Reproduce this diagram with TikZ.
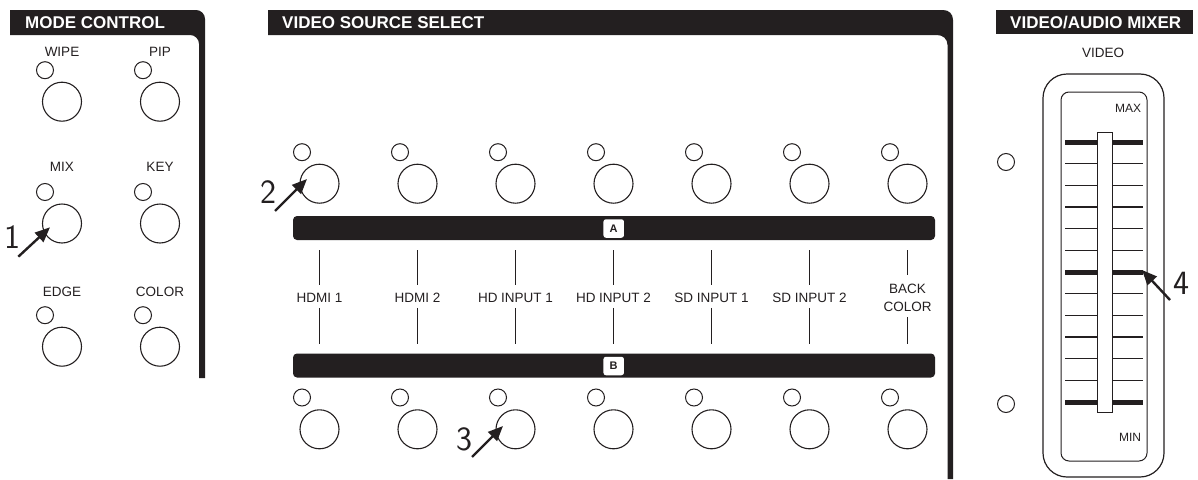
\documentclass[tikz,border=0pt]{standalone}
\usepackage{fontspec}
\setmainfont{Liberation Sans}
\usetikzlibrary{arrows.meta,calc}
\definecolor{ink}{HTML}{231F20}
\begin{document}
\begin{tikzpicture}[x=1pt,y=-1pt,
  led/.style={circle,draw=ink,line width=1pt,minimum size=17pt,inner sep=0pt},
  btn/.style={circle,draw=ink,line width=1.1pt,minimum size=39pt,inner sep=0pt},
  lbl/.style={text=ink,font=\fontsize{13.5}{18.5}\selectfont,inner sep=0pt,align=center},
  small/.style={text=ink,font=\fontsize{12}{14}\selectfont,inner sep=0pt},
  hdr/.style={text=white,font=\fontsize{17}{19}\selectfont\bfseries,inner sep=0pt,anchor=base west},
  num/.style={text=ink,font=\sffamily\fontsize{34}{36}\selectfont,inner sep=0pt},
  ptr/.style={draw=ink,line width=2.4pt,-{Triangle[length=15pt,width=12.5pt]}},
  bar/.style={fill=ink,rounded corners=4pt,minimum width=642pt,minimum height=24pt,inner sep=0pt},
  tag/.style={fill=white,rounded corners=2.5pt,minimum width=20.5pt,minimum height=18.5pt,inner sep=0pt,text=ink,font=\fontsize{11}{12}\selectfont\bfseries},
  tick/.style={draw=ink,line width=1.3pt},
  mtick/.style={draw=ink,line width=1.2pt},
  mthick/.style={draw=ink,line width=5pt}]
\useasboundingbox (0,0) rectangle (1198,479);

% ---------- MODE CONTROL ----------
\fill[ink] (10,10) -- (196,10) .. controls (201,10) and (205,14) .. (205,19) -- (205,378)
  -- (199,378) -- (199,44) .. controls (199,39) and (195,35) .. (190,35) -- (10,35) -- cycle;
\node[hdr] (hmode) at (25,28) {MODE CONTROL};

\foreach \n/\lab/\cx/\ry/\ly in {wipe/WIPE/62/101.7/51.7, pip/PIP/160/101.7/51.7,
    mix/MIX/62/223.5/167, key/KEY/160/223.5/167,
    edge/EDGE/62/346.7/291.7, color/COLOR/160/346.7/291.7}{
  \node[lbl] (l\n) at (\cx,\ly) {\lab};
  \node[led] (d\n) at ($(\cx,\ry)+(-17,-31.5)$) {};
  \node[btn] (b\n) at (\cx,\ry) {};
}

% ---------- VIDEO SOURCE SELECT ----------
\fill[ink] (268,10) -- (943,10) .. controls (949,10) and (953,14) .. (953,20) -- (953,479)
  -- (947.5,479) -- (947.5,45) .. controls (947.5,39) and (943,35) .. (937,35) -- (268,35) -- cycle;
\node[hdr] (hvss) at (282,28) {VIDEO SOURCE SELECT};

\node[bar] (barA) at (614,228) {};
\node[tag] (tagA) at (613.7,228.5) {A};
\node[bar] (barB) at (614,365.5) {};
\node[tag] (tagB) at (613.7,366) {B};

\foreach \i/\x/\lab in {1/319.5/HDMI 1, 2/417.5/HDMI 2, 3/515.5/HD INPUT 1,
    4/613.5/HD INPUT 2, 5/711.5/SD INPUT 1, 6/809.5/SD INPUT 2, 7/907.5/BACK\\COLOR}{
  \node[btn] (tb\i) at (\x,183.7) {};
  \node[led] (tl\i) at ($(tb\i)+(-17.5,-31.5)$) {};
  \node[btn] (bb\i) at (\x,429.3) {};
  \node[led] (bl\i) at ($(bb\i)+(-17.5,-31.8)$) {};
  \node[lbl] (lab\i) at (\x,298) {\lab};
  \draw[tick] ($(barA.south -| lab\i.north)+(0,10)$) -- ($(lab\i.north)+(0,-8.5)$);
  \draw[tick] ($(lab\i.south)+(0,5)$) -- ($(barB.north -| lab\i.south)+(0,-9)$);
}

% ---------- VIDEO/AUDIO MIXER ----------
\fill[ink] (996,10) rectangle (1193,34);
\node[hdr] (hmix) at (1010,28) {VIDEO/AUDIO MIXER};
\node[lbl] (lvideo) at (1103,53) {VIDEO};

\draw[ink,line width=1.2pt,rounded corners=24pt] (1043,74) rectangle (1164,477);
\draw[ink,line width=1pt,rounded corners=8pt] (1061,92) rectangle (1147,461);
\node[small] (lmax) at (1128,108) {MAX};
\node[small] (lmin) at (1130,437) {MIN};

\foreach \k in {1,2,3,4,5,7,8,9,10,11}{
  \draw[mtick] (1065,142+21.667*\k) -- (1143,142+21.667*\k);
}
\draw[mthick] (1065,142) -- (1143,142);
\draw[mthick] (1065,272) -- (1143,272);
\draw[mthick] (1065,402) -- (1143,402);
\node[draw=ink,fill=white,line width=1pt,minimum width=15pt,minimum height=280pt,inner sep=0pt] (fader) at (1104.5,272) {};

\node[led] (mled1) at (1006,162) {};
\node[led] (mled2) at (1006,404) {};

% ---------- pointers ----------
\node[num] (n1) at (12,237) {1};
\coordinate (p1s) at (18.3,256.7);
\coordinate (p1e) at (50,227.3);
\draw[ptr] (p1s) -- (p1e);

\node[num] (n2) at (268,192) {2};
\coordinate (p2s) at (275,211);
\coordinate (p2e) at (307,179);
\draw[ptr] (p2s) -- (p2e);

\node[num] (n3) at (464,439) {3};
\coordinate (p3s) at (472,457);
\coordinate (p3e) at (503,426);
\draw[ptr] (p3s) -- (p3e);

\node[num] (n4) at (1181,283) {4};
\coordinate (p4s) at (1170,300);
\coordinate (p4e) at (1142,270);
\draw[ptr] (p4s) -- (p4e);
\end{tikzpicture}
\end{document}
